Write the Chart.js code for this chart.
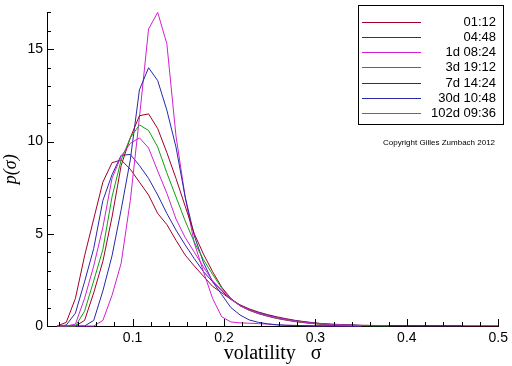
<!DOCTYPE html>
<html>
<head>
<meta charset="utf-8">
<script src="https://cdn.jsdelivr.net/npm/chart.js@4.4.0/dist/chart.umd.min.js"></script>
<style>
    html, body { margin: 0; padding: 0; background: #fff; }
</style>
</head>
<body>
<canvas id="chart" width="512" height="366"></canvas>
<script>
// Volatility grid shared by all curves
const sigma = [0.0175, 0.0275, 0.0375, 0.0475, 0.0575, 0.0675, 0.0775, 0.0875, 0.0975, 0.1075,
    0.1175, 0.1275, 0.1375, 0.1475, 0.1575, 0.1675, 0.1775, 0.1875, 0.1975, 0.2075,
    0.2175, 0.2275, 0.2375, 0.2475, 0.2575, 0.2675, 0.2775, 0.2875, 0.2975, 0.3075,
    0.3175, 0.35, 0.38, 0.46, 0.5];

// p(sigma) for each time horizon
const p0112 = [0, 0.2, 1.5, 3.8, 5.8, 7.8, 8.85, 9.0, 8.5, 7.8, 7.1, 6.1, 5.5, 4.65, 3.85, 3.25, 2.7, 2.15,
    1.8, 1.45, 1.15, 0.93, 0.76, 0.62, 0.5, 0.4, 0.31, 0.24, 0.18, 0.13, 0.1, 0.04, 0.02, 0.01, 0.01];
const p0448 = [0, 0.05, 0.7, 2.4, 4.2, 6.8, 8.2, 9.25, 9.3, 8.7, 8.0, 7.1, 6.1, 5.2, 4.4, 3.65, 2.95, 2.4,
    1.9, 1.45, 1.13, 0.9, 0.73, 0.59, 0.47, 0.37, 0.29, 0.22, 0.17, 0.12, 0.09, 0.03, 0.02, 0.01, null];
const p1d = [0, 0, 0.1, 1.5, 3.25, 5.35, 8.0, 9.2, 9.9, 10.2, 9.65, 8.4, 7.2, 5.8, 4.8, 4.0, 3.2, 2.45,
    1.95, 1.45, 1.1, 0.88, 0.7, 0.56, 0.45, 0.35, 0.27, 0.2, 0.15, 0.11, 0.08, 0.02, null, null, null];
const p3d = [0, 0, 0, 0.8, 2.45, 4.15, 7.0, 9.0, 10.2, 10.9, 10.6, 9.7, 8.3, 7.0, 5.7, 4.55, 3.6, 2.8,
    2.05, 1.48, 1.1, 0.87, 0.69, 0.55, 0.43, 0.34, 0.26, 0.19, 0.14, 0.1, 0.07, 0.02, 0.01, null, null];
const p7d = [0, 0, 0, 0.3, 1.8, 3.5, 5.9, 8.7, 10.2, 11.4, 11.5, 10.7, 9.4, 8.0, 6.5, 5.0, 3.9, 2.95,
    2.1, 1.5, 1.1, 0.85, 0.67, 0.53, 0.41, 0.32, 0.24, 0.18, 0.13, 0.09, 0.06, 0.02, null, null, null];
const p30d = [0, 0, 0, 0, 0.3, 1.9, 3.8, 6.3, 9.0, 12.8, 14.0, 13.3, 11.7, 9.7, 7.0, 4.9, 3.45, 2.4,
    1.7, 1.0, 0.6, 0.33, 0.2, 0.12, 0.07, 0.04, 0.03, 0.02, 0.01, 0.01, 0.01, 0, null, null, null];
const p102d = [0, 0, 0, 0, 0, 0.3, 1.66, 3.4, 6.8, 11.3, 16.1, 17.0, 15.3, 10.3, 7.0, 4.5, 2.95, 1.5,
    0.5, 0.22, 0.17, 0.15, 0.13, 0.1, 0.06, 0.04, 0.03, 0.02, 0.01, 0.01, 0.01, 0, null, null, null];

const seriesLabels = ['01:12', '04:48', '1d 08:24', '3d 19:12', '7d 14:24', '30d 10:48', '102d 09:36'];
const seriesValues = [p0112, p0448, p1d, p3d, p7d, p30d, p102d];
const seriesColors = ['#a00028', '#2828a8', '#d020d0', '#10a010', '#a00028', '#2828a8', '#d020d0'];
const seriesOrder = [2, 1, 0, 0, 0, 0, 0];

const xTickLabels = [0.1, 0.2, 0.3, 0.4, 0.5];
const yTickLabels = [0, 5, 10, 15];

const tickFont = { family: '"Liberation Sans", Arial, sans-serif', size: 14 };

// Small ticks pointing into the plot, Origin style
const innerTicks = {
    id: 'innerTicks',
    afterDatasetsDraw(chart) {
        const { ctx, chartArea, scales: { x, y } } = chart;
        ctx.save();
        ctx.strokeStyle = '#000';
        ctx.lineWidth = 1;
        ctx.beginPath();
        for (let k = 1; k <= 25; k++) {
            const px = Math.round(x.getPixelForValue(k * 0.02)) + 0.5;
            const len = k % 5 === 0 ? 7 : 4;
            ctx.moveTo(px, chartArea.bottom);
            ctx.lineTo(px, chartArea.bottom - len);
        }
        for (let k = 1; k <= 17; k++) {
            const py = Math.round(y.getPixelForValue(k)) + 0.5;
            const len = k % 5 === 0 ? 7 : 4;
            ctx.moveTo(chartArea.left, py);
            ctx.lineTo(chartArea.left + len, py);
        }
        ctx.stroke();
        ctx.restore();
    }
};

// Boxed legend in the top right corner plus copyright note
const boxLegend = {
    id: 'boxLegend',
    afterDraw(chart) {
        const ctx = chart.ctx;
        ctx.save();
        ctx.strokeStyle = '#000';
        ctx.lineWidth = 1;
        ctx.strokeRect(358.5, 5.5, 145, 119);
        ctx.font = '13px "Liberation Sans", Arial, sans-serif';
        ctx.textAlign = 'right';
        ctx.textBaseline = 'middle';
        ctx.fillStyle = '#000';
        chart.data.datasets.forEach((ds, i) => {
            const yy = Math.round(21.7 + i * 15.2) + 0.5;
            ctx.strokeStyle = ds.borderColor;
            ctx.beginPath();
            ctx.moveTo(362, yy);
            ctx.lineTo(421, yy);
            ctx.stroke();
            ctx.fillText(ds.label, 496, yy);
        });
        ctx.font = '8px "Liberation Sans", Arial, sans-serif';
        ctx.textAlign = 'left';
        ctx.fillText('Copyright Gilles Zumbach 2012', 383, 143);
        ctx.restore();
    }
};

const datasets = seriesLabels.map((label, i) => ({
    label: label,
    data: sigma.map((s, j) => ({ x: s, y: seriesValues[i][j] })),
    borderColor: seriesColors[i],
    borderWidth: 1,
    pointRadius: 0,
    fill: false,
    tension: 0,
    spanGaps: false,
    clip: 4,
    order: seriesOrder[i]
}));

new Chart(document.getElementById('chart'), {
    type: 'line',
    data: { datasets },
    options: {
        responsive: false,
        animation: false,
        devicePixelRatio: 1,
        layout: { padding: { top: 7, right: 11, left: 0, bottom: 0 } },
        plugins: {
            legend: { display: false },
            tooltip: { enabled: false }
        },
        scales: {
            x: {
                type: 'linear',
                min: 0.0064,
                max: 0.5,
                afterBuildTicks: s => { s.ticks = xTickLabels.map(v => ({ value: v })); },
                afterFit: s => { s.height = 40; },
                ticks: {
                    font: tickFont,
                    color: '#000',
                    padding: 4,
                    maxRotation: 0,
                    autoSkip: false,
                    callback: v => String(v)
                },
                grid: { display: false, drawTicks: false },
                border: { display: true, color: '#000', width: 1 },
                title: {
                    display: true,
                    text: 'volatility   σ',
                    color: '#000',
                    font: { family: '"Liberation Serif", "Times New Roman", serif', size: 20, lineHeight: 1 },
                    padding: { top: 0, bottom: 2 }
                }
            },
            y: {
                type: 'linear',
                min: 0,
                max: 17,
                afterBuildTicks: s => { s.ticks = yTickLabels.map(v => ({ value: v })); },
                afterFit: s => { s.width = 47; },
                ticks: {
                    font: tickFont,
                    color: '#000',
                    padding: 4,
                    autoSkip: false
                },
                grid: { display: false, drawTicks: false },
                border: { display: true, color: '#000', width: 1 },
                title: {
                    display: true,
                    text: 'p(σ)',
                    color: '#000',
                    font: { family: '"Liberation Serif", "Times New Roman", serif', size: 18, style: 'italic' },
                    padding: { top: 0, bottom: 0 }
                }
            }
        }
    },
    plugins: [innerTicks, boxLegend]
});
</script>
</body>
</html>
